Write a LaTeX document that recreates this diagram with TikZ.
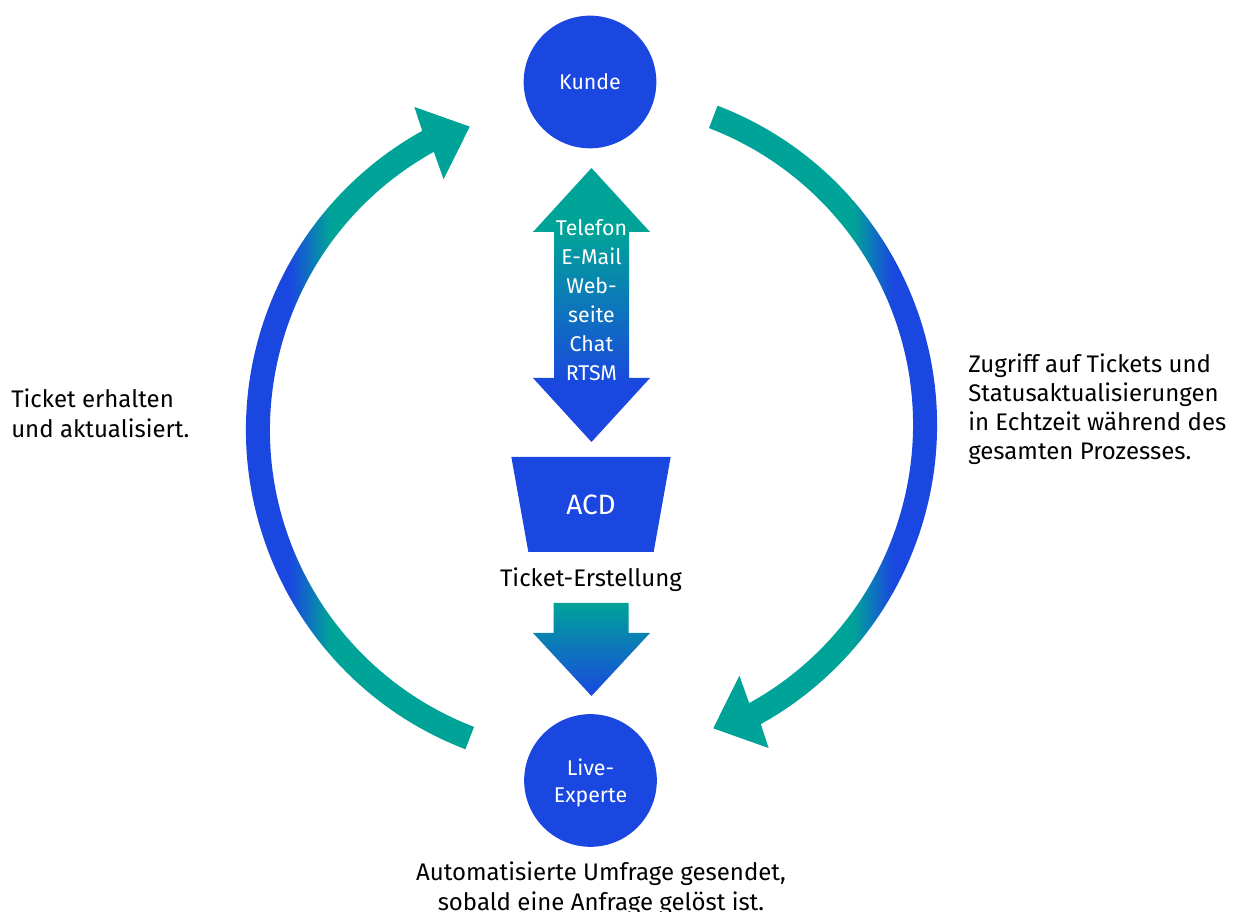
\documentclass[tikz,border=0pt]{standalone}
\usepackage{fontspec}
\setmainfont{Fira Sans}
\usetikzlibrary{calc, shapes.geometric, positioning}
\definecolor{tealgreen}{RGB}{0,163,152}
\definecolor{brightblue}{RGB}{26,71,224}
\tikzset{
    party/.style={circle, fill=brightblue, text=white, minimum size=99.5pt, inner sep=0pt,
        align=center, font=\fontsize{16}{20.25}\selectfont},
    note/.style={inner sep=0pt, font=\fontsize{18}{22.5}\selectfont},
}

\begin{document}
\begin{tikzpicture}[x=0.75pt, y=0.75pt]
        \useasboundingbox (0,0) rectangle (1236,912);
        \coordinate (cl) at (588,482);
        \coordinate (cr) at (595,487);

        % left arc: Live-Experte back to Kunde
        \begin{scope}
            \clip ($(cl)+(249:342)$) arc[start angle=249, end angle=119, radius=342]
                -- ($(cl)+(119:328)+(112:39)$) -- ($(cl)+(119:328)+(22:44)$) -- ($(cl)+(119:328)+(292:39)$)
                -- ($(cl)+(119:318)$) arc[start angle=119, end angle=249, radius=318] -- cycle;
            \fill[brightblue] (230,0) rectangle (290,912);
            \shade[left color=brightblue, right color=tealgreen] (290,0) rectangle (330,912);
            \fill[tealgreen] (330,0) rectangle (490,912);
        \end{scope}

        % right arc: Kunde down to Live-Experte
        \begin{scope}
            \clip ($(cr)+(69:342)$) arc[start angle=69, end angle=-61, radius=342]
                -- ($(cr)+(-61:328)+(292:39)$) -- ($(cr)+(-61:328)+(202:44)$) -- ($(cr)+(-61:328)+(112:39)$)
                -- ($(cr)+(-61:318)$) arc[start angle=-61, end angle=69, radius=318] -- cycle;
            \fill[tealgreen] (690,0) rectangle (853,912);
            \shade[left color=tealgreen, right color=brightblue] (853,0) rectangle (893,912);
            \fill[brightblue] (893,0) rectangle (950,912);
        \end{scope}

        \node[party] (kunde) at (590,830) {Kunde};
        \node[party, text depth=0pt] (experte) at (590.5,131.5) {Live-\\Experte};

        % channels
        \begin{scope}
            \clip (591.5,744) -- (650,680) -- (629,680) -- (629,534) -- (650,534) -- (591.5,470)
                -- (533,534) -- (554,534) -- (554,680) -- (533,680) -- cycle;
            \fill[tealgreen] (530,680) rectangle (655,750);
            \shade[top color=tealgreen, bottom color=brightblue] (530,527) rectangle (655,680);
            \fill[brightblue] (530,465) rectangle (655,527);
        \end{scope}
        \node[text=white, align=center, inner sep=0pt, font=\fontsize{16}{21.75}\selectfont] (kanaele)
            at (591.5,612) {Telefon\\E-Mail\\Web-\\seite\\Chat\\RTSM};

        \node[trapezium, shape border rotate=180, trapezium angle=71.4, trapezium stretches=true,
            minimum width=120pt, minimum height=71.25pt, inner sep=0pt, fill=brightblue,
            text=white, font=\fontsize{21}{25}\selectfont] (acd) at (591,407.5) {ACD};
        \node[note] (erstellung) at (591,332) {Ticket-Erstellung};

        \shade[top color=tealgreen, bottom color=brightblue]
            (553.5,309) -- (628.5,309) -- (628.5,279) -- (650,279) -- (591.5,216) -- (533,279) -- (553.5,279) -- cycle;

        \node[note, align=left, anchor=west] (erhalten) at (11,499) {Ticket erhalten\\und aktualisiert.};
        \node[note, align=left, anchor=west, font=\fontsize{18}{21.75}\selectfont] (zugriff) at (968,502.5)
            {Zugriff auf Tickets und\\Statusaktualisierungen\\in Echtzeit während des\\gesamten Prozesses.};
        \node[note, align=center] (umfrage) at (601,23)
            {Automatisierte Umfrage gesendet,\\sobald eine Anfrage gelöst ist.};
\end{tikzpicture}
\end{document}
